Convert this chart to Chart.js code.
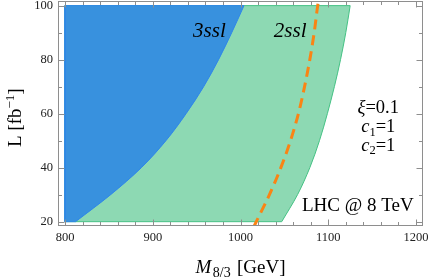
<!DOCTYPE html>
<html><head><meta charset="utf-8">
<script src="https://cdn.jsdelivr.net/npm/chart.js@4.4.0/dist/chart.umd.min.js"></script>
<style>html,body{margin:0;padding:0;background:#fff;overflow:hidden}#wrap{width:428px;height:279px;position:relative}canvas{display:block}</style>
</head><body><div id="wrap"><canvas id="c" width="428" height="279" style="width:428px;height:279px"></canvas></div>
<script>
// ---- data ----
const luminosity = [20, 30, 40, 50, 60, 70, 80, 90, 100];           // fb^-1
const reach3ssl  = [812, 852, 887, 915, 938, 958, 975, 990, 1004];    // GeV
const reach2ssl  = [1047, 1065, 1079, 1090, 1099, 1107, 1114, 1120, 1125];
const expLumi    = [18, 20, 30, 40, 50, 60, 70, 80, 90, 100, 102];
const expMass    = [1015, 1018, 1033, 1046, 1057, 1066, 1073, 1079, 1084, 1088, 1089];
const xTicks = [800, 900, 1000, 1100, 1200];
const yTicks = [20, 40, 60, 80, 100];
const massMin = 800, lumiMin = 20, lumiMax = 100;
const xTitle = ['M', '8/3', ' [GeV]'];
const yTitle = ['L [fb', '\u22121', ']'];
const labels3 = '3ssl', labels2 = '2ssl';
const paramLines = [['\u03BE', '', '=0.1'], ['c', '1', '=1'], ['c', '2', '=1']];
const energyLabel = 'LHC @ 8 TeV';

const SERIF = "'Liberation Serif','Times New Roman',serif";
const BLUE = '#3891de', BLUE_EDGE = '#2f86ea';
const GREEN = '#8dd9b3', GREEN_EDGE = '#45c184';
const ORANGE = '#fa8414';
const FRAME = '#8e8e8e';

const pts = (xs, ys) => xs.map((v, i) => ({x: v, y: ys[i]}));

function rich(ctx, parts, x, y, align) {
  let w = 0;
  parts.forEach(p => { ctx.font = p.f; p.w = ctx.measureText(p.t).width; w += p.w + (p.gap || 0); });
  let cx = align === 'center' ? x - w / 2 : (align === 'right' ? x - w : x);
  parts.forEach(p => { ctx.font = p.f; ctx.fillText(p.t, cx, y + (p.dy || 0)); cx += p.w + (p.gap || 0); });
}

const framePlugin = {
  id: 'frame',
  afterDraw(chart) {
    const {ctx, chartArea: a, scales: {x, y}} = chart;
    ctx.save();
    ctx.strokeStyle = FRAME; ctx.lineWidth = 1;
    const L = Math.round(a.left) + 0.5, R = Math.round(a.right) - 0.5;
    const T = Math.round(a.top) + 0.5, B = Math.round(a.bottom) - 0.5;
    ctx.strokeRect(L, T, R - L, B - T);
    ctx.beginPath();
    for (let v = xTicks[0]; v <= xTicks[xTicks.length - 1]; v += 20) {
      const px = Math.round(x.getPixelForValue(v)) + 0.5;
      const len = xTicks.includes(v) ? 6 : 3.5;
      ctx.moveTo(px, B); ctx.lineTo(px, B - len);
      ctx.moveTo(px, T); ctx.lineTo(px, T + len);
    }
    for (let v = yTicks[0]; v <= yTicks[yTicks.length - 1]; v += 10) {
      const py = Math.round(y.getPixelForValue(v)) + 0.5;
      const len = yTicks.includes(v) ? 6 : 3.5;
      ctx.moveTo(L, py); ctx.lineTo(L + len, py);
      ctx.moveTo(R, py); ctx.lineTo(R - len, py);
    }
    ctx.stroke();

    ctx.fillStyle = '#000';
    ctx.textBaseline = 'alphabetic';
    const big = '18.5px ' + SERIF, bigI = 'italic 18.5px ' + SERIF;
    const small = '12.5px ' + SERIF;
    // region labels
    ctx.font = 'italic 21px ' + SERIF;
    ctx.fillText(labels3, x.getPixelForValue(946), y.getPixelForValue(88.3));
    ctx.fillText(labels2, x.getPixelForValue(1038), y.getPixelForValue(88.3));
    // parameters
    const cx = x.getPixelForValue(1157);
    const bl = [60.3, 53.2, 46.2];
    paramLines.forEach((ln, i) => {
      const parts = [{t: ln[0], f: bigI}];
      if (ln[1]) parts.push({t: ln[1], f: small, dy: 3.5});
      parts.push({t: ln[2], f: big});
      rich(ctx, parts, cx, y.getPixelForValue(bl[i]), 'center');
    });
    ctx.font = '19px ' + SERIF;
    ctx.fillText(energyLabel, x.getPixelForValue(1070), y.getPixelForValue(24));
    // axis titles
    rich(ctx, [{t: xTitle[0], f: 'italic 19px ' + SERIF, gap: 1.5}, {t: xTitle[1], f: '14px ' + SERIF, dy: 4, gap: 1.5},
               {t: xTitle[2], f: '19px ' + SERIF}],
      (a.left + a.right) / 2, 273, 'center');
    ctx.save();
    ctx.translate(21, (a.top + a.bottom) / 2 + 4);
    ctx.rotate(-Math.PI / 2);
    rich(ctx, [{t: yTitle[0], f: '19px ' + SERIF}, {t: yTitle[1], f: '13px ' + SERIF, dy: -7.5}, {t: yTitle[2], f: '19px ' + SERIF}], 0, 0, 'center');
    ctx.restore();
    ctx.restore();
  }
};

Chart.defaults.font.family = SERIF;
new Chart(document.getElementById('c'), {
  type: 'line',
  data: {
    datasets: [
      {label: 'exp', data: pts(expMass, expLumi), borderColor: ORANGE, borderWidth: 3,
       borderDash: [10, 6], pointRadius: 0, fill: false, cubicInterpolationMode: 'monotone', order: 0},
      {label: '3ssl edge', data: pts([reach3ssl[reach3ssl.length - 1], massMin, massMin, reach3ssl[0]], [lumiMax, lumiMax, lumiMin, lumiMin]),
       borderColor: BLUE_EDGE, borderWidth: 1, pointRadius: 0, fill: false, tension: 0, order: 1},
      {label: '3ssl', data: pts(reach3ssl, luminosity), borderColor: BLUE_EDGE, borderWidth: 1,
       backgroundColor: BLUE, pointRadius: 0, fill: {value: massMin}, cubicInterpolationMode: 'monotone', order: 2},
      {label: '2ssl edge', data: pts([reach2ssl[reach2ssl.length - 1], massMin, massMin, reach2ssl[0]], [lumiMax, lumiMax, lumiMin, lumiMin]),
       borderColor: GREEN_EDGE, borderWidth: 1, pointRadius: 0, fill: false, tension: 0, order: 3},
      {label: '2ssl', data: pts(reach2ssl, luminosity), borderColor: GREEN_EDGE, borderWidth: 1,
       backgroundColor: GREEN, pointRadius: 0, fill: {value: massMin}, cubicInterpolationMode: 'monotone', order: 4}
    ]
  },
  options: {
    indexAxis: 'y',
    responsive: false,
    animation: false,
    devicePixelRatio: 1,
    layout: {padding: {top: 1.3, right: 5, bottom: 0, left: 0}},
    plugins: {legend: {display: false}, tooltip: {enabled: false}},
    scales: {
      x: {
        type: 'linear', position: 'bottom', min: 792, max: 1208,
        grid: {display: false, drawTicks: false}, border: {display: false},
        ticks: {color: '#222', font: {size: 12.5, family: SERIF}, padding: 4, maxRotation: 0,
                callback: v => String(v)},
        afterBuildTicks: s => { s.ticks = xTicks.map(v => ({value: v})); },
        afterFit: s => { s.height = 53; s.paddingLeft = 0; s.paddingRight = 0; }
      },
      y: {
        type: 'linear', position: 'left', min: 18.4, max: 101.6,
        grid: {display: false, drawTicks: false}, border: {display: false},
        ticks: {color: '#222', font: {size: 12.5, family: SERIF}, padding: 5, callback: v => String(v)},
        afterBuildTicks: s => { s.ticks = yTicks.map(v => ({value: v})); },
        afterFit: s => { s.width = 58; s.paddingTop = 0; s.paddingBottom = 0; }
      }
    }
  },
  plugins: [framePlugin]
});
</script>
</body></html>
